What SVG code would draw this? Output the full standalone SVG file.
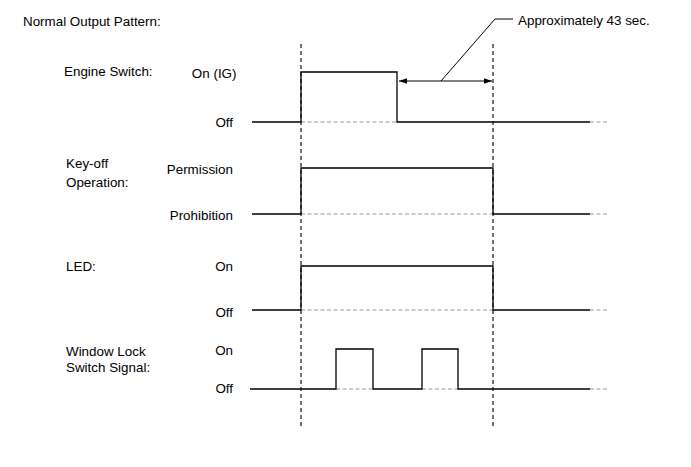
<svg xmlns="http://www.w3.org/2000/svg" width="691" height="467" viewBox="0 0 691 467">
<style>
text{font-family:"Liberation Sans",Arial,sans-serif;font-size:13.4px;fill:#000}
.r{text-anchor:end}
.sig{fill:none;stroke:#000;stroke-width:1.3}
.ref{fill:none;stroke:#999;stroke-width:1;stroke-dasharray:4 2.5}
.vd{fill:none;stroke:#000;stroke-width:1.1;stroke-dasharray:4 3}
.ld{fill:none;stroke:#000;stroke-width:1}
</style>
<defs>
<marker id="ah" viewBox="0 0 10 10" refX="10" refY="5" markerWidth="8" markerHeight="8" orient="auto-start-reverse" markerUnits="userSpaceOnUse">
<path d="M0,1.5 L10,5 L0,8.5 Z" fill="#000"/>
</marker>
</defs>
<rect width="691" height="467" fill="#fff"/>
<text x="23" y="25.5">Normal Output Pattern:</text>

<g id="engine-switch">
<text x="64" y="75.5">Engine Switch:</text>
<text class="r" x="236.5" y="78">On (IG)</text>
<text class="r" x="233" y="127">Off</text>
<path class="ref" d="M301,122 H397 M590,122 H608"/>
<path class="sig" d="M252,122 H301 V72 H397 V122 H590"/>
</g>

<g id="key-off-operation">
<text x="66" y="168">Key-off</text>
<text x="66" y="187">Operation:</text>
<text class="r" x="233" y="173.5">Permission</text>
<text class="r" x="233" y="220">Prohibition</text>
<path class="ref" d="M301,214 H493 M590,214 H608"/>
<path class="sig" d="M252,214 H301 V168 H493 V214 H590"/>
</g>

<g id="led">
<text x="66" y="271">LED:</text>
<text class="r" x="233" y="271">On</text>
<text class="r" x="233" y="317">Off</text>
<path class="ref" d="M301,310 H493 M590,310 H608"/>
<path class="sig" d="M252,310 H301 V266 H493 V310 H590"/>
</g>

<g id="window-lock-switch-signal">
<text x="66" y="355.5">Window Lock</text>
<text x="66" y="372">Switch Signal:</text>
<text class="r" x="233" y="354.5">On</text>
<text class="r" x="233" y="393">Off</text>
<path class="ref" d="M336,389 H373 M422,389 H458 M590,389 H608"/>
<path class="sig" d="M250,389 H336 V349 H373 V389 H422 V349 H458 V389 H590"/>
</g>

<g id="connectors">
<path class="vd" d="M301,44 V426"/>
<path class="vd" d="M493,44 V426"/>
<path class="ld" d="M399,81 H492" marker-start="url(#ah)" marker-end="url(#ah)"/>
<path class="ld" d="M441,81 L495,19 H513"/>
</g>
<text x="518" y="25">Approximately 43 sec.</text>
</svg>
